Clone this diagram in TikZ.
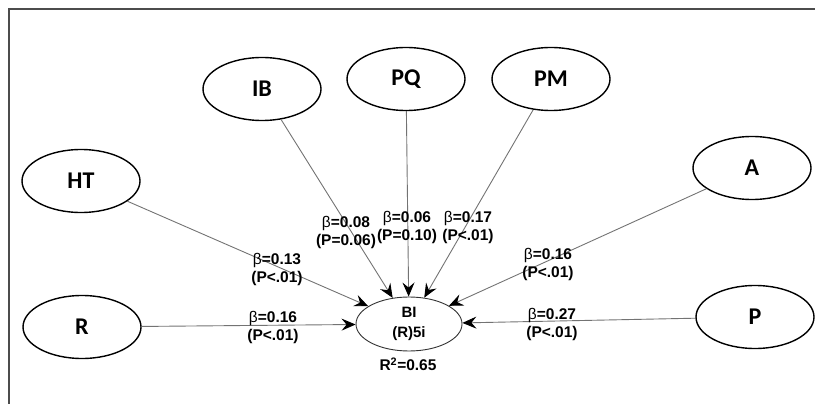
\documentclass[tikz,border=0pt]{standalone}
\usepackage{fontspec}
\setmainfont{Liberation Sans}
\newfontfamily\nodefont{Carlito}
\usetikzlibrary{shapes.geometric,arrows.meta}
\newcommand\bet{{\mdseries β}}
\begin{document}
\begin{tikzpicture}[x=1pt,y=-1pt,
  latent/.style={ellipse,draw=black,line width=1.4pt,minimum width=118pt,minimum height=63pt,inner sep=0pt,font=\nodefont\bfseries\fontsize{24}{26}\selectfont},
  target/.style={ellipse,draw=black!80,line width=0.9pt,minimum width=106pt,minimum height=54pt,inner sep=0pt,align=center,font=\bfseries\fontsize{15}{20}\selectfont},
  conn/.style={draw=black!55,line width=0.9pt,-{Stealth[length=14pt,width=12pt,inset=5pt,black]}},
  est/.style={align=center,font=\bfseries\fontsize{15.5}{18}\selectfont,inner sep=0pt},
  frame/.style={draw=black!70,line width=2pt}]
\useasboundingbox (0,0) rectangle (815,404);
\draw[frame] (9,404) -- (9,9) -- (815,9);
% latent variables
\node[latent] (IB) at (262,89) {IB};
\node[latent] (PQ) at (406,79) {PQ};
\node[latent] (PM) at (551,79) {PM};
\node[latent] (HT) at (81,181) {HT};
\node[latent] (R) at (82,327) {R};
\node[latent] (A) at (752,168) {A};
\node[latent] (P) at (755,317) {P};
\node[target] (BI) at (409,324) {BI\\(R)5i};
% connectors
\draw[conn] (R) -- (BI);
\draw[conn] (HT) -- (BI);
\draw[conn] (IB) -- (BI);
\draw[conn] (PQ) -- (BI);
\draw[conn] (PM) -- (BI);
\draw[conn] (A) -- (BI);
\draw[conn] (P) -- (BI);
% estimates
\node[est] (l08) at (346,232) {\bet=0.08\\(P=0.06)};
\node[est] (l06) at (407,227.5) {\bet=0.06\\(P=0.10)};
\node[est] (l17) at (468,227.5) {\bet=0.17\\(P<.01)};
\node[est] (l13) at (277,269) {\bet=0.13\\(P<.01)};
\node[est] (l16a) at (273,327) {\bet=0.16\\(P<.01)};
\node[est] (l16b) at (548,264) {\bet=0.16\\(P<.01)};
\node[est] (l27) at (552,324.5) {\bet=0.27\\(P<.01)};
\node[est] (r2) at (408,364) {R\textsuperscript{2}=0.65};
\end{tikzpicture}
\end{document}
